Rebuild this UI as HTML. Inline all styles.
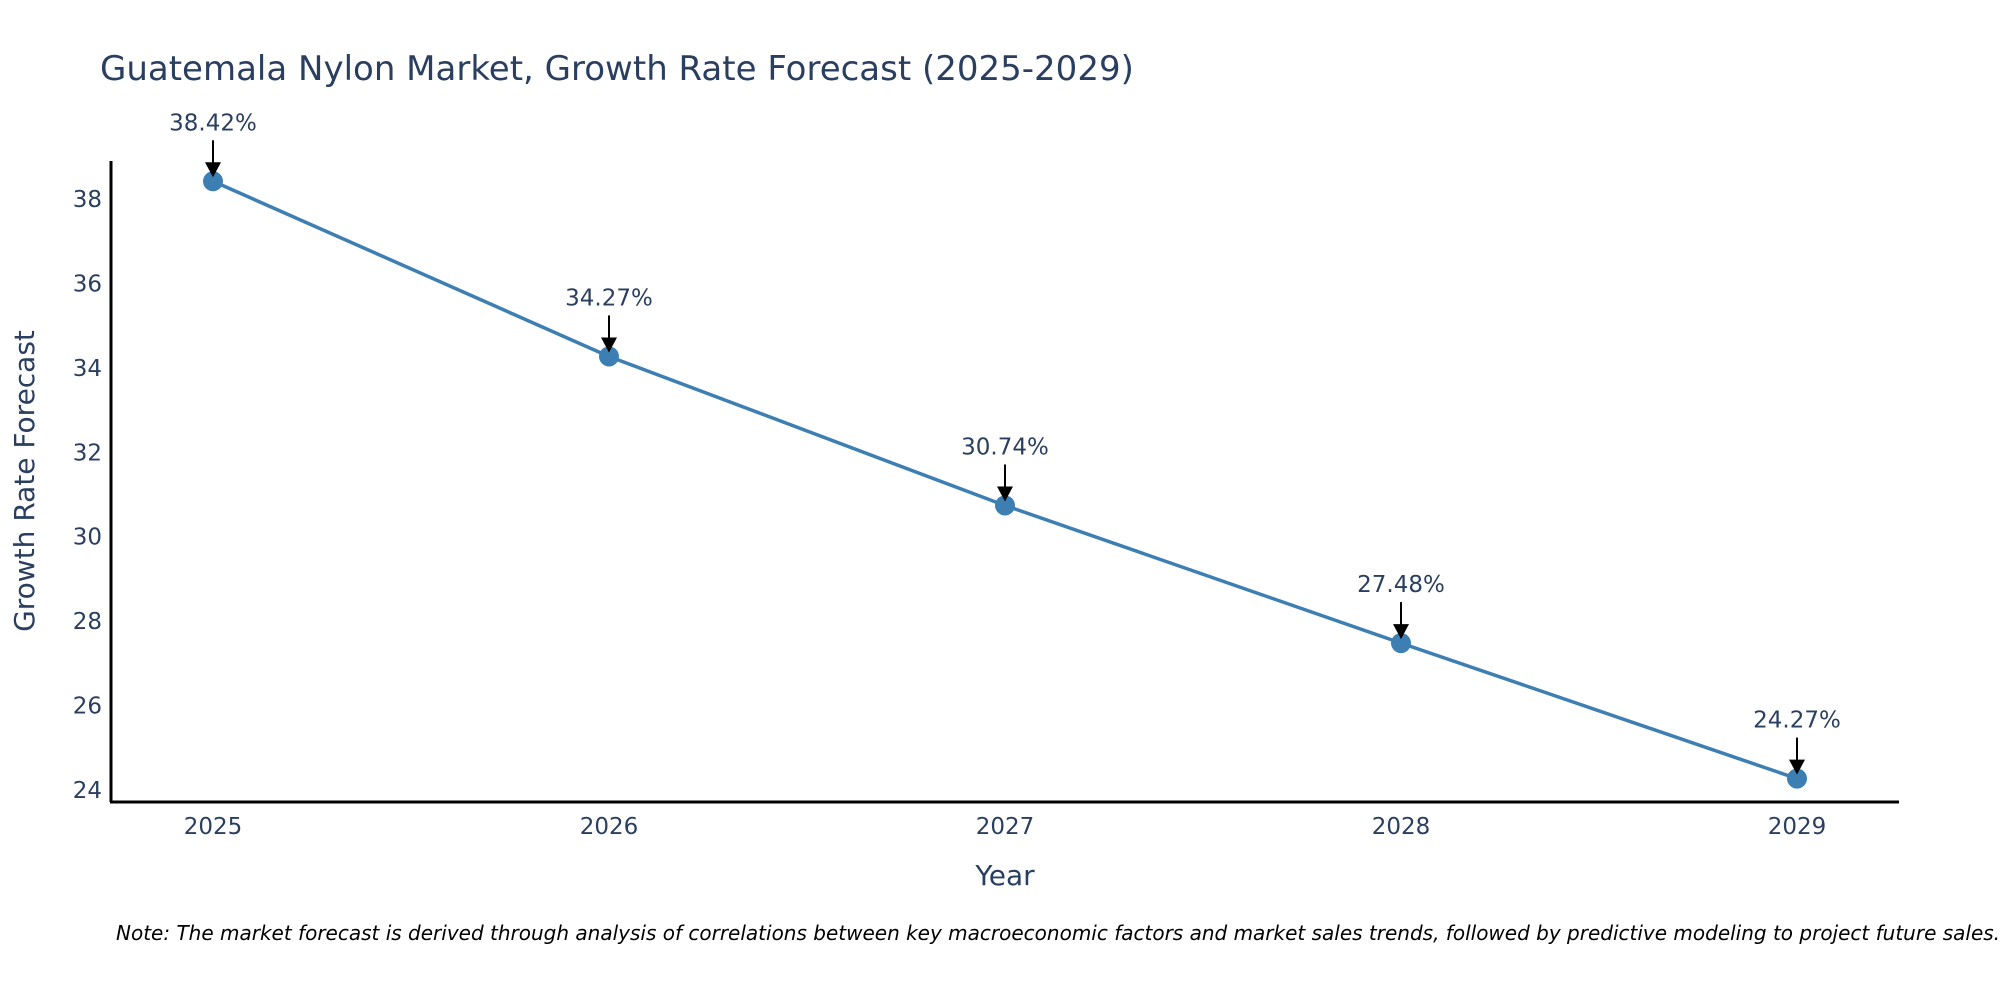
<!DOCTYPE html>
<html><head><meta charset="utf-8"><style>
html,body{margin:0;padding:0;background:#fff;}
svg{display:block;font-family:"DejaVu Sans","Liberation Sans",sans-serif;}
</style></head><body>
<svg id="chart" width="2000" height="1000" viewBox="0 0 2000 1000">
<rect width="2000" height="1000" fill="#fff"/>
<text x="100" y="80" font-size="34" fill="#2a3f5f">Guatemala Nylon Market, Growth Rate Forecast (2025-2029)</text>
<g id="yticks"></g>
<g id="xticks"></g>
<line x1="111" y1="161" x2="111" y2="802" stroke="#000" stroke-width="3"/>
<line x1="110" y1="802" x2="1899" y2="802" stroke="#000" stroke-width="3"/>
<text transform="translate(34,481) rotate(-90)" text-anchor="middle" font-size="28" fill="#2a3f5f">Growth Rate Forecast</text>
<text x="1005" y="885" text-anchor="middle" font-size="28" fill="#2a3f5f">Year</text>
<g id="series"></g>
<g id="annots"></g>
<text x="116" y="940" font-size="20" font-style="italic" fill="#000">Note: The market forecast is derived through analysis of correlations between key macroeconomic factors and market sales trends, followed by predictive modeling to project future sales.</text>
</svg>
<script>
const years = [2025, 2026, 2027, 2028, 2029];
const growth = [38.42, 34.27, 30.74, 27.48, 24.27];
const labels = ["38.42%", "34.27%", "30.74%", "27.48%", "24.27%"];
const yTicks = [24, 26, 28, 30, 32, 34, 36, 38];

const NS = "http://www.w3.org/2000/svg";
function xs(v){ return 213 + (v - 2025) * 396; }
function ys(v){ return 790 - (v - 24) * (591/14); }
function mk(tag, attrs, parent){
  const e = document.createElementNS(NS, tag);
  for (const k in attrs) e.setAttribute(k, attrs[k]);
  parent.appendChild(e); return e;
}
const yg = document.getElementById('yticks');
yTicks.forEach(t => {
  const el = mk('text', {x:102, y:ys(t)+8, 'text-anchor':'end', 'font-size':23, fill:'#2a3f5f'}, yg);
  
  
  el.textContent = t;
});
const xg = document.getElementById('xticks');
years.forEach(t => {
  const el = mk('text', {x:xs(t), y:834, 'text-anchor':'middle', 'font-size':23, fill:'#2a3f5f'}, xg);
  
  
  el.textContent = t;
});
const sg = document.getElementById('series');
const pl = mk('polyline', {points: years.map((y,i)=>xs(y)+','+ys(growth[i])).join(' '), fill:'none', stroke:'#3d7fb3', 'stroke-width':3.5}, sg);


years.forEach((y,i) => {
  const c = mk('circle', {cx:xs(y), cy:ys(growth[i]), r:10, fill:'#3d7fb3'}, sg);
  
  
});
const ag = document.getElementById('annots');
years.forEach((y,i) => {
  const px = xs(y), py = ys(growth[i]);
  const ln = mk('line', {x1:px, y1:py-41, x2:px, y2:py-18, stroke:'#000', 'stroke-width':2}, ag);
  
  
  const hd = mk('polygon', {points:`${px-8},${py-19} ${px+8},${py-19} ${px},${py-4}`, fill:'#000'}, ag);
  
  
  const tx = mk('text', {x:px, y:py-51, 'text-anchor':'middle', 'font-size':23, fill:'#2a3f5f'}, ag);
  
  
  tx.textContent = labels[i];
});
</script>
</body></html>
